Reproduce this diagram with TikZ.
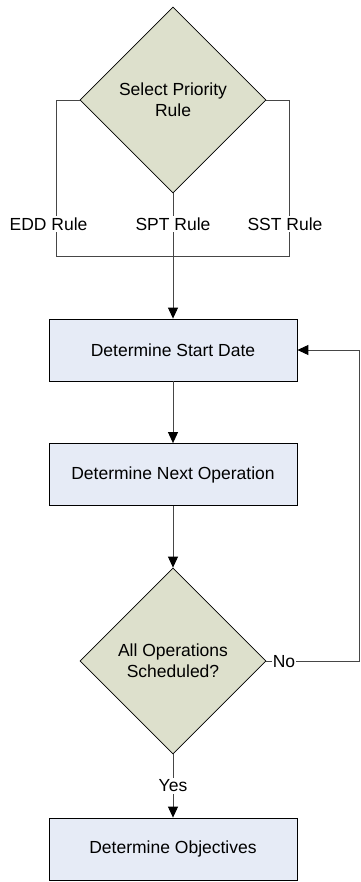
\documentclass[tikz,border=0pt]{standalone}
\usepackage{fontspec}
\setmainfont{Liberation Sans}
\usetikzlibrary{shapes.geometric,arrows.meta}
\definecolor{decfill}{RGB}{221,224,204}
\definecolor{boxfill}{RGB}{230,235,246}
\definecolor{linec}{RGB}{70,70,70}
\tikzset{
  txt/.style={font=\fontsize{17.5}{21}\selectfont, align=center, text=black},
  decision/.style={txt, shape=diamond, draw=black, line width=0.8pt, fill=decfill,
    minimum width=186pt, minimum height=186pt, inner sep=0pt},
  procbox/.style={txt, draw=black, line width=0.8pt, fill=boxfill,
    minimum width=248pt, minimum height=62pt, inner sep=0pt},
  conn/.style={draw=linec, line width=0.9pt},
  arr/.style={conn, -{Triangle[length=11pt,width=10pt,color=black]}},
  lbl/.style={txt, fill=white, inner sep=2pt}
}
\begin{document}
\begin{tikzpicture}[x=1pt,y=-1pt]
\useasboundingbox (0,0) rectangle (360,882);
\fill[white] (0,0) rectangle (360,882);
% nodes
\node[decision] (d1) at (173,100) {Select Priority\\Rule};
\node[procbox] (b1) at (173,350) {Determine Start Date};
\node[procbox] (b2) at (173,474.5) {Determine Next Operation};
\node[decision] (d2) at (173,661) {All Operations\\Scheduled?};
\node[procbox] (b3) at (173,849) {Determine Objectives};
% coordinates
\coordinate (l1) at (56,100);
\coordinate (l2) at (56,256);
\coordinate (r1) at (289,100);
\coordinate (r2) at (289,256);
\coordinate (m2) at (173,256);
\coordinate (n1) at (359,661);
\coordinate (n2) at (359,350);
% connectors
\draw[conn] (d1.west) -- (l1) -- (l2) -- (r2) -- (r1) -- (d1.east);
\draw[conn] (d1.south) -- (m2);
\draw[arr] (m2) -- (b1.north);
\draw[arr] (b1.south) -- (b2.north);
\draw[arr] (b2.south) -- (d2.north);
\draw[arr] (d2.south) -- (b3.north);
\draw[conn] (d2.east) -- (n1) -- (n2);
\draw[arr] (n2) -- (b1.east);
% labels
\node[lbl] (edd) at (48.5,224) {EDD Rule};
\node[lbl] (spt) at (173,224) {SPT Rule};
\node[lbl] (sst) at (285,224) {SST Rule};
\node[lbl, inner sep=1pt] (no) at (284,662) {No};
\node[lbl] (yes) at (173,786) {Yes};
\end{tikzpicture}
\end{document}
